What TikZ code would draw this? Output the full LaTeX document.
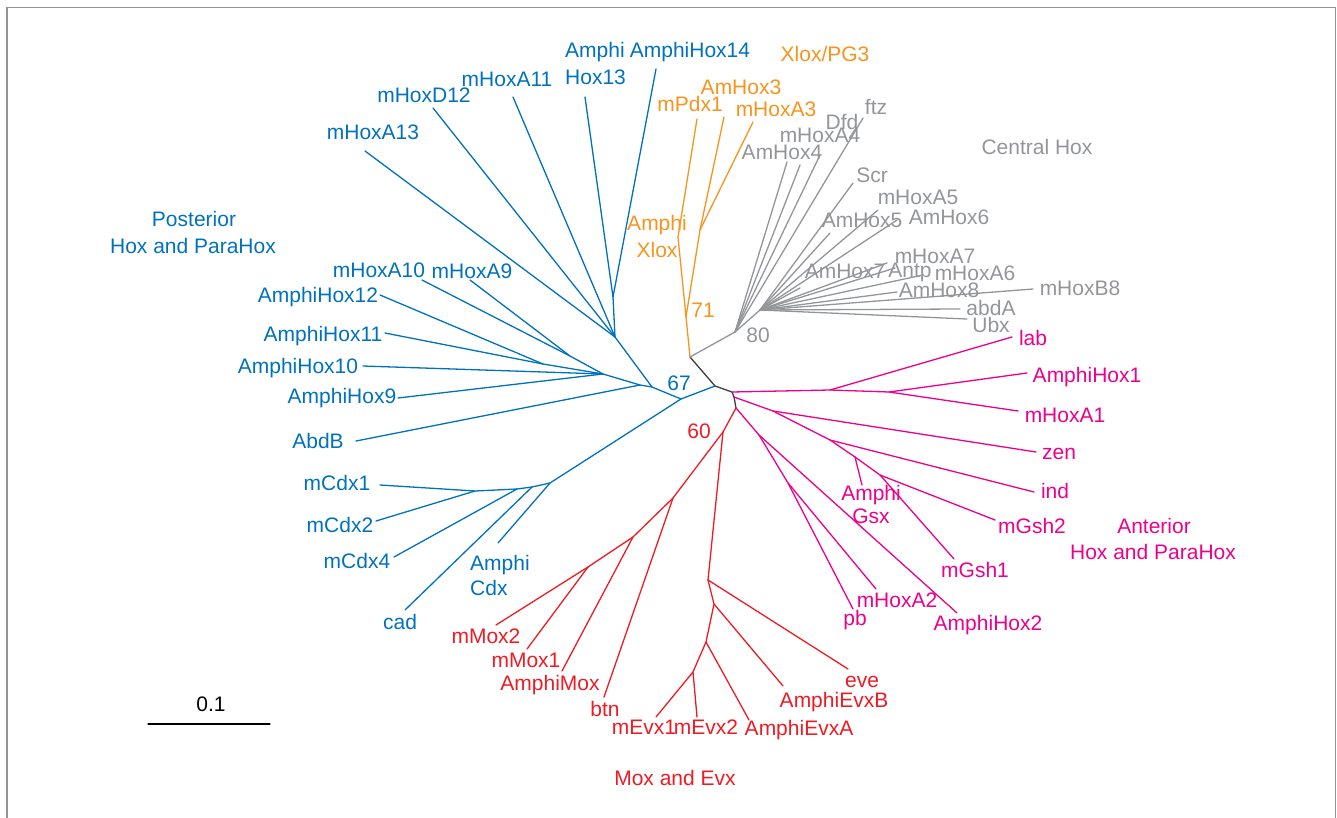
\documentclass[tikz,border=0pt]{standalone}
\usepackage{fontspec}
\setmainfont{Liberation Sans}
\definecolor{post}{RGB}{0,114,188}
\definecolor{xlox}{RGB}{247,148,29}
\definecolor{cent}{RGB}{147,149,152}
\definecolor{ante}{RGB}{236,0,140}
\definecolor{moev}{RGB}{237,28,36}
\definecolor{stem}{RGB}{60,60,60}

\begin{document}
\begin{tikzpicture}
	[
	 x = 1pt, y = -1pt,
	 every node/.style = {inner sep = 0pt,
	                      anchor = base,
	                      font = \fontsize{21}{25}\selectfont},
	 BR/.style = {line width = 1.3pt, line join = round, line cap = round},
	 PB/.style = {BR, draw = post},
	 XB/.style = {BR, draw = xlox},
	 CB/.style = {BR, draw = cent},
	 AB/.style = {BR, draw = ante},
	 MB/.style = {BR, draw = moev},
	 PT/.style = {text = post},
	 XT/.style = {text = xlox},
	 CT/.style = {text = cent},
	 AT/.style = {text = ante},
	 MT/.style = {text = moev}
	]

	\useasboundingbox (0,0) rectangle (1337,818);
	\draw [gray!85, line width = 1.5pt] (7,830) -- (7,7.5) -- (1335.5,7.5) -- (1335.5,830);

	% inner nodes of the tree
	\coordinate (nXC) at (690,357);
	\coordinate (nPo) at (715,386);
	\coordinate (nA1) at (732,392);
	\coordinate (nA2) at (734,397);
	\coordinate (nMo) at (736,408);

	\coordinate (b67) at (681,399);
	\coordinate (bP)  at (652,387);
	\coordinate (bT)  at (615,337);
	\coordinate (bT3) at (613,297);
	\coordinate (bQ)  at (640,385);
	\coordinate (bM)  at (603,374);
	\coordinate (bN)  at (570,356);
	\coordinate (bK)  at (543,364);
	\coordinate (bC1) at (550,483);
	\coordinate (bC2) at (532,487);
	\coordinate (bC3) at (517,489);
	\coordinate (bC4) at (475,491);

	\coordinate (o71) at (686,317);
	\coordinate (oX1) at (678,237);
	\coordinate (oX2) at (700,230);

	\coordinate (g80) at (735,332);
	\coordinate (gC)  at (760,310);

	\coordinate (aLb) at (830,390);
	\coordinate (aH1) at (889,392);
	\coordinate (aZ)  at (773,411);
	\coordinate (aI)  at (830,440);
	\coordinate (aGs) at (855,457);
	\coordinate (aGm) at (880,475);
	\coordinate (aH2) at (759,435);
	\coordinate (aPb) at (788,483);

	\coordinate (r60) at (723,432);
	\coordinate (rM1) at (673,498);
	\coordinate (rM2) at (633,537);
	\coordinate (rM3) at (588,567);
	\coordinate (rE1) at (708,580);
	\coordinate (rE2) at (714,604);
	\coordinate (rE3) at (706,642);
	\coordinate (rE4) at (693,672);

	% branch tips
	\coordinate (tA13)  at (365,151);
	\coordinate (tD12)  at (433,108);
	\coordinate (tA11)  at (513,97);
	\coordinate (tAH13) at (585,97);
	\coordinate (tAH14) at (656,69);
	\coordinate (tA10)  at (422,280);
	\coordinate (tA9)   at (470,280);
	\coordinate (tAH12) at (380,295);
	\coordinate (tAH11) at (385,333);
	\coordinate (tAH10) at (363,366);
	\coordinate (tAH9)  at (398,398);
	\coordinate (tAbdB) at (356,441);
	\coordinate (tCdx1) at (380,485);
	\coordinate (tCdx2) at (376,521);
	\coordinate (tCdx4) at (394,557);
	\coordinate (tcad)  at (405,610);
	\coordinate (tACdx) at (498,543);

	\coordinate (tPdx1) at (697,119);
	\coordinate (tAm3)  at (724,117);
	\coordinate (tA3)   at (753,122);

	\coordinate (tAm4)  at (787,162);
	\coordinate (tA4)   at (800,165);
	\coordinate (tDfd)  at (820,155);
	\coordinate (tftz)  at (863,118);
	\coordinate (tScr)  at (853,183);
	\coordinate (tA5)   at (878,210);
	\coordinate (tAm6)  at (897,220);
	\coordinate (tAm5)  at (830,233);
	\coordinate (tAm7)  at (800,288);
	\coordinate (tA7)   at (887,263);
	\coordinate (tAntp) at (895,268);
	\coordinate (tA6)   at (923,275);
	\coordinate (tAm8)  at (897,292);
	\coordinate (tB8)   at (1033,289);
	\coordinate (tabdA) at (960,309);
	\coordinate (tUbx)  at (967,319);

	\coordinate (tlab)  at (1012,337);
	\coordinate (tAH1)  at (1027,373);
	\coordinate (tA1)   at (1018,411);
	\coordinate (tzen)  at (1036,452);
	\coordinate (tind)  at (1034,492);
	\coordinate (tAGsx) at (862,485);
	\coordinate (tGsh2) at (995,520);
	\coordinate (tGsh1) at (954,559);
	\coordinate (tAH2)  at (957,613);
	\coordinate (tpb)   at (853,609);
	\coordinate (tA2)   at (876,589);

	\coordinate (tMox2) at (496,625);
	\coordinate (tMox1) at (527,649);
	\coordinate (tAMox) at (562,671);
	\coordinate (tbtn)  at (604,697);
	\coordinate (teve)  at (848,669);
	\coordinate (tEvxB) at (783,686);
	\coordinate (tEvxA) at (749,720);
	\coordinate (tEvx1) at (656,717);
	\coordinate (tEvx2) at (697,717);

	\coordinate (s0) at (148,724);
	\coordinate (s1) at (270,724);

	% branches
	\draw [BR, draw = stem] (nXC) -- (nPo) -- (nA1) -- (nA2) -- (nMo);

	\draw [PB] (nPo) -- (b67) -- (bP) -- (bT) -- (tA13);
	\draw [PB] (bT) -- (tD12);
	\draw [PB] (bT) -- (tA11);
	\draw [PB] (bT) -- (bT3) -- (tAH13);
	\draw [PB] (bT3) -- (tAH14);
	\draw [PB] (bP) -- (bQ) -- (tAbdB);
	\draw [PB] (bQ) -- (bM) -- (tAH9);
	\draw [PB] (bM) -- (tAH10);
	\draw [PB] (bM) -- (bN) -- (tA10);
	\draw [PB] (bN) -- (tA9);
	\draw [PB] (bM) -- (bK) -- (tAH12);
	\draw [PB] (bK) -- (tAH11);
	\draw [PB] (b67) -- (bC1) -- (tACdx);
	\draw [PB] (bC1) -- (bC2) -- (tcad);
	\draw [PB] (bC2) -- (bC3) -- (tCdx4);
	\draw [PB] (bC3) -- (bC4) -- (tCdx1);
	\draw [PB] (bC4) -- (tCdx2);

	\draw [XB] (nXC) -- (o71) -- (oX1) -- (tPdx1);
	\draw [XB] (o71) -- (oX2) -- (tAm3);
	\draw [XB] (oX2) -- (tA3);

	\draw [CB] (nXC) -- (g80) -- (tAm4);
	\draw [CB] (g80) -- (tA4);
	\draw [CB] (g80) -- (tDfd);
	\draw [CB] (g80) -- (tftz);
	\draw [CB] (g80) -- (gC) -- (tScr);
	\draw [CB] (gC) -- (tA5);
	\draw [CB] (gC) -- (tAm6);
	\draw [CB] (gC) -- (tAm5);
	\draw [CB] (gC) -- (tAm7);
	\draw [CB] (gC) -- (tA7);
	\draw [CB] (gC) -- (tAntp);
	\draw [CB] (gC) -- (tA6);
	\draw [CB] (gC) -- (tAm8);
	\draw [CB] (gC) -- (tB8);
	\draw [CB] (gC) -- (tabdA);
	\draw [CB] (gC) -- (tUbx);

	\draw [AB] (nA1) -- (aLb) -- (tlab);
	\draw [AB] (aLb) -- (aH1) -- (tAH1);
	\draw [AB] (aH1) -- (tA1);
	\draw [AB] (nA2) -- (aZ) -- (tzen);
	\draw [AB] (aZ) -- (aI) -- (tind);
	\draw [AB] (aI) -- (aGs) -- (tAGsx);
	\draw [AB] (aGs) -- (aGm) -- (tGsh2);
	\draw [AB] (aGm) -- (tGsh1);
	\draw [AB] (nMo) -- (aH2) -- (tAH2);
	\draw [AB] (aH2) -- (aPb) -- (tpb);
	\draw [AB] (aPb) -- (tA2);

	\draw [MB] (nMo) -- (r60) -- (rM1) -- (tbtn);
	\draw [MB] (rM1) -- (rM2) -- (tAMox);
	\draw [MB] (rM2) -- (rM3) -- (tMox2);
	\draw [MB] (rM3) -- (tMox1);
	\draw [MB] (r60) -- (rE1) -- (teve);
	\draw [MB] (rE1) -- (rE2) -- (tEvxB);
	\draw [MB] (rE2) -- (rE3) -- (tEvxA);
	\draw [MB] (rE3) -- (rE4) -- (tEvx1);
	\draw [MB] (rE4) -- (tEvx2);

	\draw [BR, draw = black] (s0) -- (s1);
	\node (lScale) at (211,711) {0.1};

	% labels
	\node [PT] (lA13)  at (373,140) {mHoxA13};
	\node [PT] (lD12)  at (424,103) {mHoxD12};
	\node [PT] (lA11)  at (507,87)  {mHoxA11};
	\node [PT, anchor = base west] (lAH13a) at (565,58) {Amphi};
	\node [PT, anchor = base west] (lAH13b) at (565,85) {Hox13};
	\node [PT] (lAH14) at (690,58)  {AmphiHox14};
	\node [PT] (lPostA) at (194,227) {Posterior};
	\node [PT] (lPostB) at (193,253) {Hox and ParaHox};
	\node [PT] (lA10)  at (379,277) {mHoxA10};
	\node [PT] (lA9)   at (472,278) {mHoxA9};
	\node [PT] (lAH12) at (318,302) {AmphiHox12};
	\node [PT] (lAH11) at (323,341) {AmphiHox11};
	\node [PT] (lAH10) at (298,373) {AmphiHox10};
	\node [PT] (lAH9)  at (342,403) {AmphiHox9};
	\node [PT] (lAbdB) at (318,448) {AbdB};
	\node [PT] (lCdx1) at (337,490) {mCdx1};
	\node [PT] (lCdx2) at (340,532) {mCdx2};
	\node [PT] (lCdx4) at (357,568) {mCdx4};
	\node [PT] (lcad)  at (400,629) {cad};
	\node [PT, anchor = base west] (lACdxa) at (470,570) {Amphi};
	\node [PT, anchor = base west] (lACdxb) at (470,595) {Cdx};
	\node [PT] (l67)   at (679,390) {67};

	\node [XT] (lPG3)  at (825,62)  {Xlox/PG3};
	\node [XT] (lAm3)  at (741,95)  {AmHox3};
	\node [XT] (lPdx1) at (690,112) {mPdx1};
	\node [XT] (lA3)   at (776,117) {mHoxA3};
	\node [XT] (lAXa)  at (657,230) {Amphi};
	\node [XT] (lAXb)  at (657,257) {Xlox};
	\node [XT] (l71)   at (703,317) {71};

	\node [CT] (lftz)  at (876,115) {ftz};
	\node [CT] (lDfd)  at (842,130) {Dfd};
	\node [CT] (lA4)   at (820,143) {mHoxA4};
	\node [CT] (lAm4)  at (782,160) {AmHox4};
	\node [CT] (lCent) at (1037,155) {Central Hox};
	\node [CT] (lScr)  at (872,183) {Scr};
	\node [CT] (lA5)   at (918,205) {mHoxA5};
	\node [CT] (lAm5)  at (862,228) {AmHox5};
	\node [CT] (lAm6)  at (949,225) {AmHox6};
	\node [CT] (lA7)   at (935,263) {mHoxA7};
	\node [CT] (lAm7)  at (845,278) {AmHox7};
	\node [CT] (lAntp) at (910,277) {Antp};
	\node [CT] (lA6)   at (975,280) {mHoxA6};
	\node [CT] (lAm8)  at (939,297) {AmHox8};
	\node [CT] (lB8)   at (1080,295) {mHoxB8};
	\node [CT] (labdA) at (991,315) {abdA};
	\node [CT] (lUbx)  at (991,332) {Ubx};
	\node [CT] (l80)   at (758,342) {80};

	\node [AT] (llab)  at (1033,345) {lab};
	\node [AT] (lAH1)  at (1087,382) {AmphiHox1};
	\node [AT] (lA1)   at (1065,422) {mHoxA1};
	\node [AT] (lzen)  at (1059,459) {zen};
	\node [AT] (lind)  at (1055,498) {ind};
	\node [AT] (lAGa)  at (871,500) {Amphi};
	\node [AT] (lAGb)  at (871,523) {Gsx};
	\node [AT] (lGsh2) at (1032,533) {mGsh2};
	\node [AT] (lAntA) at (1154,533) {Anterior};
	\node [AT] (lAntB) at (1153,559) {Hox and ParaHox};
	\node [AT] (lGsh1) at (975,577) {mGsh1};
	\node [AT] (lA2)   at (897,607) {mHoxA2};
	\node [AT] (lpb)   at (855,625) {pb};
	\node [AT] (lAH2)  at (988,630) {AmphiHox2};

	\node [MT] (l60)   at (699,438) {60};
	\node [MT] (lMox2) at (486,643) {mMox2};
	\node [MT] (lMox1) at (526,667) {mMox1};
	\node [MT] (lAMox) at (550,690) {AmphiMox};
	\node [MT] (lbtn)  at (605,716) {btn};
	\node [MT] (lEvx1) at (644,734) {mEvx1};
	\node [MT] (lEvx2) at (706,734) {mEvx2};
	\node [MT] (lEvxA) at (799,735) {AmphiEvxA};
	\node [MT] (leve)  at (862,687) {eve};
	\node [MT] (lEvxB) at (834,707) {AmphiEvxB};
	\node [MT] (lMoEv) at (675,785) {Mox and Evx};
\end{tikzpicture}
\end{document}
